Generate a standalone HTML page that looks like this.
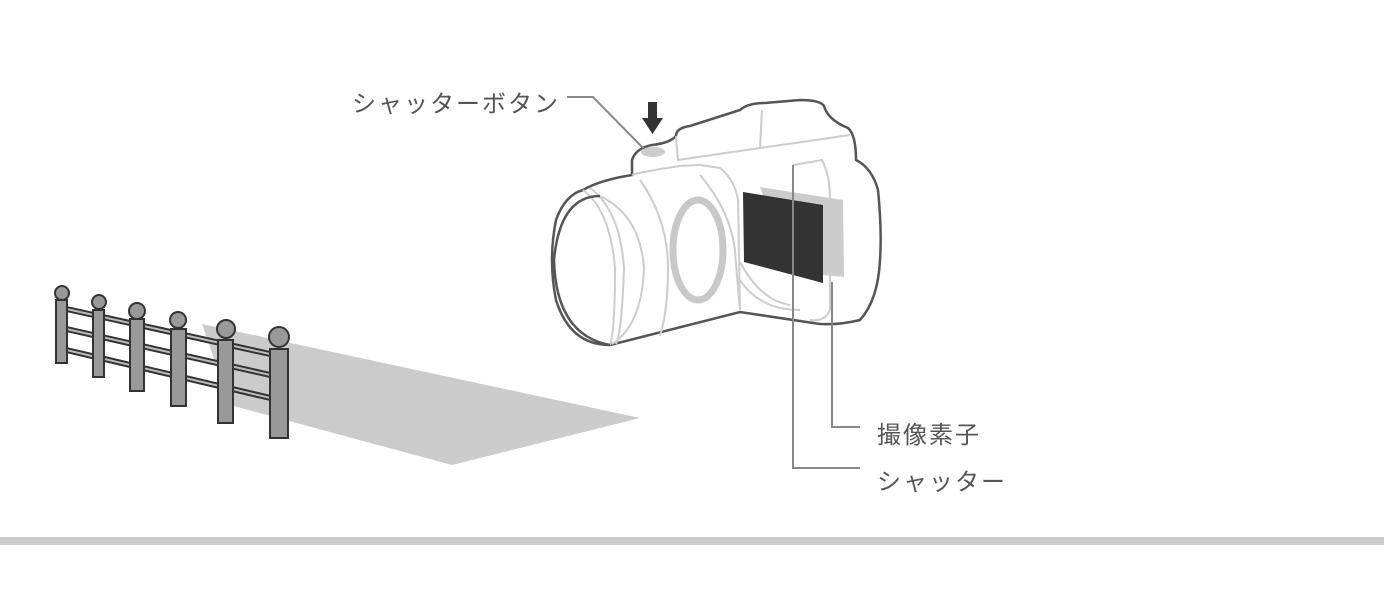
<!DOCTYPE html>
<html><head><meta charset="utf-8"><style>
html,body{margin:0;padding:0;background:#fff;width:1384px;height:600px;overflow:hidden}
svg{display:block}
text{font-family:"Liberation Sans","Noto Sans CJK JP",sans-serif;fill:#555;font-size:24px;letter-spacing:2px}
</style></head><body>
<svg width="1384" height="600" viewBox="0 0 1384 600">
<!-- shadow -->
<polygon points="202,324 640,418 452,465 230,405" fill="#cbcbcb"/>
<!-- rails -->
<g stroke="#333" stroke-width="6" fill="none">
<line x1="62" y1="308" x2="279" y2="356"/>
<line x1="62" y1="328" x2="279" y2="377"/>
<line x1="62" y1="349" x2="279" y2="400"/>
</g>
<g stroke="#bbb" stroke-width="2" fill="none">
<line x1="62" y1="308" x2="279" y2="356"/>
<line x1="62" y1="328" x2="279" y2="377"/>
<line x1="62" y1="349" x2="279" y2="400"/>
</g>
<!-- posts -->
<g fill="#999" stroke="#333" stroke-width="2">
<circle cx="62" cy="293" r="7"/><rect x="56" y="300" width="11" height="63"/>
<circle cx="99" cy="302" r="7"/><rect x="93" y="310" width="11" height="67"/>
<circle cx="137" cy="311" r="8"/><rect x="130" y="319" width="14" height="72"/>
<circle cx="178" cy="320" r="8"/><rect x="171" y="329" width="15" height="77"/>
<circle cx="226" cy="329" r="9"/><rect x="218" y="340" width="15" height="83"/>
<circle cx="279" cy="337" r="10"/><rect x="270" y="349" width="18" height="89"/>
</g>
<!-- camera body outline -->
<path d="M632,160 Q636,148 652,145 Q670,143 676,136 Q676,128 690,126 L740,110 Q748,103 765,103 L800,100 Q820,100 824,106 Q828,120 848,128 Q856,135 856,160 Q872,168 878,190 Q882,230 880,260 Q878,300 860,320 Q840,325 820,324 L740,312 L610,345 Q570,345 556,300 Q548,260 556,220 Q565,195 583,190 Q600,180 632,175 Z" fill="#fff" stroke="#555" stroke-width="2.5"/>
<!-- inner light lines -->
<g stroke="#ccc" stroke-width="2" fill="none">
<path d="M632,175 Q640,172 680,166 L700,165 L720,168 Q735,180 738,200 L740,310"/>
<path d="M676,136 L678,160 L760,148 L850,135"/>
<path d="M760,148 L762,110"/>
<path d="M793,165 L822,160 Q830,175 830,200 L830,310 Q825,322 810,320"/>
<path d="M793,165 L793,320"/>
<path d="M600,196 Q640,215 644,268 Q642,325 612,344"/>
<path d="M583,190 Q610,210 615,268 Q615,330 610,345"/>
<path d="M590,188 Q620,210 624,268 Q622,330 616,344"/>
<path d="M640,180 Q668,220 668,268 Q668,310 660,336"/>
<path d="M700,175 Q730,210 735,250 Q738,290 740,310"/>
<path d="M740,262 Q760,300 790,305"/>
<path d="M740,280 Q760,310 800,310"/>
</g>
<!-- lens front -->
<path d="M600,196 Q560,196 554,260 Q556,335 610,345" fill="none" stroke="#555" stroke-width="2.5"/>
<ellipse cx="698" cy="250" rx="25" ry="50" fill="none" stroke="#c8c8c8" stroke-width="7"/>
<!-- sensors -->
<polygon points="760,187 843,200 844,277 823,275 790,270" fill="#ccc"/>
<polygon points="743,192 823,205 823,283 744,262" fill="#333"/>
<!-- shutter button -->
<ellipse cx="653" cy="152" rx="12" ry="5" fill="#ccc"/>
<!-- arrow -->
<polygon points="648,102 657,102 657,118 663,118 652.5,134 642,118 648,118" fill="#333"/>
<!-- leader lines -->
<g stroke="#888" stroke-width="2" fill="none">
<polyline points="567,97 593,97 643,148"/>
<polyline points="832,282 832,427 860,427"/>
<polyline points="793,165 793,468 860,468"/>
</g>
<text x="352" y="112">シャッターボタン</text>
<text x="877" y="443">撮像素子</text>
<text x="877" y="490">シャッター</text>
<rect x="0" y="537" width="1384" height="8" fill="#ccc"/>
</svg>
</body></html>
